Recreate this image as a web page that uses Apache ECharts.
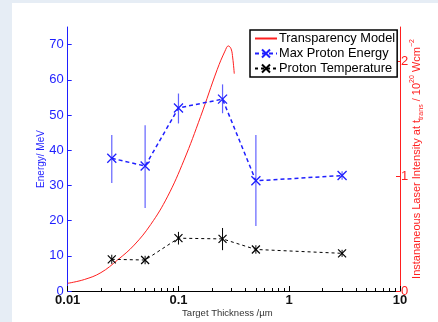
<!DOCTYPE html>
<html>
<head>
<meta charset="utf-8">
<script src="https://cdn.jsdelivr.net/npm/echarts@6/dist/echarts.min.js"></script>
<style>
  html, body { margin: 0; padding: 0; background: #e6edf5; }
  #chart { position: absolute; left: 12px; top: 3px; width: 426px; height: 319px; background: #fff; }
</style>
</head>
<body>
<div id="chart"></div>
<script>
const thickness = [0.025, 0.05, 0.1, 0.25, 0.5, 3];
const maxEnergy = [37.7, 35.5, 52.0, 54.5, 31.3, 32.8];
const maxEnergyLow = [30.7, 23.6, 47.6, 50.5, 18.5, 31.6];
const maxEnergyHigh = [44.3, 47.1, 56.1, 58.7, 44.3, 34.0];
const protonTemp = [9.0, 8.8, 15.0, 14.8, 11.8, 10.7];
const protonTempLow = [7.7, 7.6, 13.2, 11.6, 10.6, 9.7];
const protonTempHigh = [10.3, 10.0, 16.8, 17.9, 13.0, 11.7];

const modelThickness = [0.01, 0.01413, 0.01995, 0.02818, 0.03981, 0.05623, 0.07943, 0.1122, 0.1585, 0.2239, 0.263, 0.2818, 0.2985, 0.309, 0.319];
const modelIntensity = [0.067, 0.10, 0.16, 0.27, 0.40, 0.58, 0.82, 1.14, 1.52, 1.93, 2.09, 2.135, 2.11, 2.03, 1.893];

const xMajorTicks = [0.01, 0.1, 1, 10];
const xMinorTicks = [0.02, 0.03, 0.04, 0.05, 0.06, 0.07, 0.08, 0.09, 0.2, 0.3, 0.4, 0.5, 0.6, 0.7, 0.8, 0.9, 2, 3, 4, 5, 6, 7, 8, 9];
const energyTicks = [0, 10, 20, 30, 40, 50, 60, 70];
const intensityTicks = [0, 1, 2];

const BLUE = '#1f1fff';
const RED = '#ff1f1f';
const FONT = '"Liberation Sans", Arial, sans-serif';
const xSym = 'path://M0,0L10,10M10,0L0,10';

const zip = (a, b) => a.map((v, i) => [v, b[i]]);
const errData = (lo, hi) => thickness.map((x, i) => [x, lo[i], hi[i]]);

function errorBars(color, width) {
  return (params, api) => {
    const x = api.value(0);
    const lo = api.coord([x, api.value(1)]);
    const hi = api.coord([x, api.value(2)]);
    return {
      type: 'line',
      shape: { x1: lo[0], y1: lo[1], x2: hi[0], y2: hi[1] },
      style: { stroke: color, lineWidth: width },
    };
  };
}

const chart = echarts.init(document.getElementById('chart'), null, { renderer: 'canvas' });
chart.setOption({
  animation: false,
  textStyle: { fontFamily: FONT },
  grid: { left: 55.7, right: 38, top: 24, bottom: 31, containLabel: false, outerBoundsMode: 'none' },
  legend: {
    orient: 'vertical', left: 238, top: 27,
    backgroundColor: '#fff', borderColor: '#000', borderWidth: 1.5, borderRadius: 0,
    padding: [2, 2, 2, 4], itemGap: 2, itemWidth: 22, itemHeight: 10,
    textStyle: { fontSize: 12.8, color: '#000', fontFamily: FONT, padding: [0, 0, 0, -3] },
    data: [
      { name: 'Transparency Model', itemStyle: { opacity: 0 } },
      'Max Proton Energy',
      'Proton Temperature',
    ],
  },
  xAxis: [{
    type: 'log', logBase: 10, min: 0.01, max: 10,
    name: 'Target Thickness /µm', nameLocation: 'middle', nameGap: 17, nameMoveOverlap: false,
    nameTextStyle: { fontSize: 9.5, color: '#333', padding: [0, 13, 0, 0] },
    axisLine: { lineStyle: { color: '#000', width: 1 } },
    axisTick: { inside: true, length: 5, customValues: xMajorTicks, lineStyle: { color: '#000' } },
    axisLabel: { customValues: xMajorTicks, fontSize: 13, fontWeight: 'bold', color: '#111', margin: 3,
      formatter: (v) => String(v) },
    splitLine: { show: false },
  }, {
    type: 'log', logBase: 10, min: 0.01, max: 10, position: 'bottom',
    axisLine: { show: false },
    axisTick: { inside: true, length: 3, customValues: xMinorTicks, lineStyle: { color: '#000' } },
    axisLabel: { show: false },
    splitLine: { show: false },
  }],
  yAxis: [{
    type: 'value', min: 0, max: 75,
    name: 'Energy/ MeV', nameLocation: 'middle', nameGap: 21, nameMoveOverlap: false,
    nameTextStyle: { fontSize: 10, color: BLUE },
    axisLine: { show: true, lineStyle: { color: BLUE, width: 1 } },
    axisTick: { show: true, inside: true, length: 4, customValues: energyTicks, lineStyle: { color: BLUE } },
    axisLabel: { customValues: energyTicks, fontSize: 13, color: BLUE, margin: 4 },
    splitLine: { show: false },
  }, {
    type: 'value', min: 0, max: 2.3, position: 'right',
    name: '{n|Instananeous Laser Intensity at t}{sub|trans}{n| / 10}{sup|20}{n| Wcm}{sup|−2}',
    nameLocation: 'middle', nameGap: 9, nameRotate: 90, nameMoveOverlap: false,
    nameTextStyle: {
      color: RED,
      rich: {
        n: { fontSize: 11, color: RED, lineHeight: 16, verticalAlign: 'middle', fontFamily: FONT },
        sub: { fontSize: 7, color: RED, lineHeight: 16, verticalAlign: 'bottom', fontFamily: FONT },
        sup: { fontSize: 7, color: RED, lineHeight: 16, verticalAlign: 'top', fontFamily: FONT },
      },
    },
    axisLine: { show: true, lineStyle: { color: RED, width: 1 } },
    axisTick: { show: true, inside: true, length: 4, customValues: intensityTicks, lineStyle: { color: RED } },
    axisLabel: { customValues: intensityTicks, fontSize: 13, color: RED, margin: 1 },
    splitLine: { show: false },
  }],
  series: [
    {
      name: 'Transparency Model', type: 'line', yAxisIndex: 1, smooth: 0.4,
      data: zip(modelThickness, modelIntensity), symbol: 'none',
      lineStyle: { color: RED, width: 1 }, itemStyle: { color: RED }, z: 2,
    },
    {
      name: 'Max Proton Energy err', type: 'custom', yAxisIndex: 0,
      data: errData(maxEnergyLow, maxEnergyHigh), encode: { x: 0, y: [1, 2] },
      renderItem: errorBars('rgba(70,70,255,0.85)', 1.2), z: 3,
    },
    {
      name: 'Max Proton Energy', type: 'line', yAxisIndex: 0,
      data: zip(thickness, maxEnergy), symbol: xSym, symbolSize: 9,
      lineStyle: { color: BLUE, width: 1.5, type: [4, 3] },
      itemStyle: { color: 'rgba(0,0,0,0)', borderColor: BLUE, borderWidth: 1.3 }, z: 4,
    },
    {
      name: 'Proton Temperature err', type: 'custom', yAxisIndex: 0,
      data: errData(protonTempLow, protonTempHigh), encode: { x: 0, y: [1, 2] },
      renderItem: errorBars('#000', 1), z: 3,
    },
    {
      name: 'Proton Temperature', type: 'line', yAxisIndex: 0,
      data: zip(thickness, protonTemp), symbol: xSym, symbolSize: 8,
      lineStyle: { color: '#000', width: 1, type: [3, 3] },
      itemStyle: { color: 'rgba(0,0,0,0)', borderColor: '#000', borderWidth: 1.2 }, z: 4,
    },
  ],
});
</script>
</body>
</html>
